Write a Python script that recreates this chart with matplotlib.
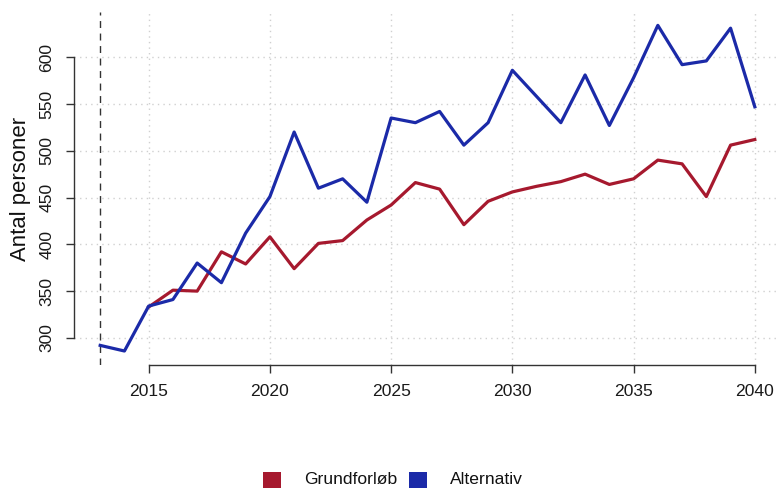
import matplotlib
matplotlib.use("Agg")
import matplotlib.pyplot as plt
from matplotlib.patches import Rectangle

plt.rcParams['font.family'] = ['Liberation Sans', 'DejaVu Sans']

years_alt = list(range(2013, 2041))
alternativ = [292, 286, 334, 341, 380, 359, 412, 451, 520, 460, 470, 445, 535, 530, 542,
              506, 530, 586, 558, 530, 581, 527, 578, 634, 592, 596, 631, 547]
years_grund = list(range(2015, 2041))
grundforlob = [333, 351, 350, 392, 379, 408, 374, 401, 404, 426, 442, 466, 459, 421, 446,
               456, 462, 467, 475, 464, 470, 490, 486, 451, 506, 512]

series_labels = ["Grundforløb", "Alternativ"]
series_colors = ["#A6192E", "#1B2AA8"]
xticks = [2015, 2020, 2025, 2030, 2035, 2040]
yticks = [300, 350, 400, 450, 500, 550, 600]

W, H = 777, 488
fig = plt.figure(figsize=(W / 100, H / 100), dpi=100)
ax = fig.add_axes([74 / W, 1 - 365 / H, (781 - 74) / W, (365 - 12.3) / H])

fs = 12.6
for xv in xticks:
    ax.axvline(xv, color="#d0d0d0", lw=1.0, ls=(0, (1, 3)), zorder=1)
for yv in yticks:
    ax.axhline(yv, color="#d0d0d0", lw=1.0, ls=(0, (1, 3)), zorder=1)
ax.axvline(2013, color="#333333", lw=1.0, ls=(0, (5, 4)), zorder=2)

ax.plot(years_grund, grundforlob, color=series_colors[0], lw=2.3, zorder=3)
ax.plot(years_alt, alternativ, color=series_colors[1], lw=2.3, zorder=4)

ax.set_xlim(2013 - 0.04 * 27, 2040 + 0.04 * 27)
ax.set_ylim(285 - 0.04 * 349, 634 + 0.04 * 349)

for s in ["top", "right"]:
    ax.spines[s].set_visible(False)
ax.spines["left"].set_bounds(300, 600)
ax.spines["bottom"].set_bounds(2015, 2040)
for s in ["left", "bottom"]:
    ax.spines[s].set_color("#333333")
    ax.spines[s].set_linewidth(1.0)

ax.set_xticks(xticks)
ax.set_xticklabels([str(v) for v in xticks], fontsize=fs, color="#1a1a1a")
ax.set_yticks(yticks)
ax.set_yticklabels([str(v) for v in yticks], fontsize=fs, rotation=90, va="center",
                   color="#1a1a1a")
ax.tick_params(axis="both", length=6, width=1.0, color="#333333", pad=8)
ax.set_ylabel("Antal personer", fontsize=15.9, labelpad=6, color="#111111")

# legend
sq_x = [262.7, 409.0]
txt_x = [304, 450]
yc = 480
for lab, col, sx, tx in zip(series_labels, series_colors, sq_x, txt_x):
    fig.patches.append(Rectangle((sx / W, 1 - 490 / H), 18 / W, 18 / H,
                                 transform=fig.transFigure, facecolor=col,
                                 edgecolor="none"))
    fig.text(tx / W, 1 - yc / H, lab, fontsize=fs, va="center", ha="left",
             color="#111111")

fig.savefig("out.png", dpi=100)
